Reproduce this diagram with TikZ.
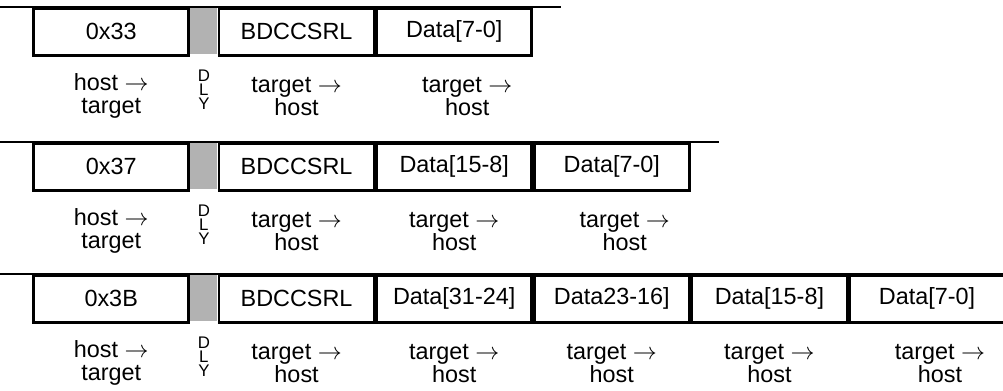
\documentclass[tikz,border=0pt]{standalone}
\usepackage{fontspec}
\setmainfont{Liberation Sans}

\tikzset{
  cell/.style={draw, line width=1.3pt, minimum width=77.5pt, minimum height=23.5pt,
    inner sep=0pt, anchor=north west, font=\fontsize{11.7}{14}\selectfont},
  dlybox/.style={fill=gray!60, minimum width=13.5pt, minimum height=23.5pt,
    inner sep=0pt, anchor=north west},
  dir/.style={align=center, inner sep=0pt, font=\fontsize{11.7}{11.5}\selectfont},
  dlytext/.style={align=center, inner sep=0pt, font=\fontsize{8.4}{7}\selectfont},
  rule/.style={line width=1.3pt},
}

\begin{document}
\begin{tikzpicture}[x=0.5pt, y=-0.5pt]
\useasboundingbox (0,0) rectangle (1003,391);

% 0x33 : one data byte
\node[dlybox] (dlyA) at (190,7) {};
\node[cell, anchor=north east] (opA) at (dlyA.north west) {0x33};
\node[cell] (csrA) at (dlyA.north east) {BDCCSRL};
\node[cell] (dA1) at (csrA.north east) {Data[7-0]};
\coordinate (lA) at (0,7);
\draw[rule] (lA) -- (dA1.north east) -- ++(28,0);

% 0x37 : two data bytes
\node[dlybox] (dlyB) at (190,142) {};
\node[cell, anchor=north east] (opB) at (dlyB.north west) {0x37};
\node[cell] (csrB) at (dlyB.north east) {BDCCSRL};
\node[cell] (dB1) at (csrB.north east) {Data[15-8]};
\node[cell] (dB2) at (dB1.north east) {Data[7-0]};
\coordinate (lB) at (0,142);
\draw[rule] (lB) -- (dB2.north east) -- ++(28,0);

% 0x3B : four data bytes
\node[dlybox] (dlyC) at (190,274) {};
\node[cell, anchor=north east] (opC) at (dlyC.north west) {0x3B};
\node[cell] (csrC) at (dlyC.north east) {BDCCSRL};
\node[cell] (dC1) at (csrC.north east) {Data[31-24]};
\node[cell] (dC2) at (dC1.north east) {Data23-16]};
\node[cell] (dC3) at (dC2.north east) {Data[15-8]};
\node[cell] (dC4) at (dC3.north east) {Data[7-0]};
\coordinate (lC) at (0,274);
\draw[rule] (lC) -- (dC4.north east) -- ++(40,0);

% direction labels
\foreach \r in {A,B,C}{
  \node[dir] (h\r) at ([yshift=-19.75pt]op\r.south) {host $\rightarrow$\\target};
  \node[dlytext] (y\r) at ([yshift=-17.5pt]dly\r.south) {D\\L\\Y};
  \node[dir] (t\r) at ([yshift=-19.75pt]csr\r.south) {target $\rightarrow$\\host};
}
\foreach \c in {B1,C1,C2,C3}{
  \node[dir] (t\c) at ([yshift=-19.75pt]d\c.south) {target $\rightarrow$\\host};
}
\foreach \c in {A1,B2,C4}{
  \node[dir] (t\c) at ([xshift=6.5pt,yshift=-19.75pt]d\c.south) {target $\rightarrow$\\host};
}
\end{tikzpicture}
\end{document}
